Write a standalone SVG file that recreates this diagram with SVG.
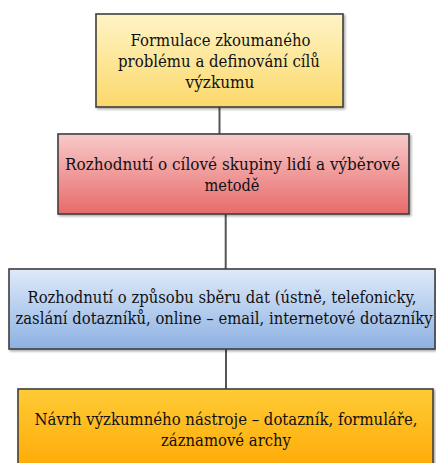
<svg xmlns="http://www.w3.org/2000/svg" width="436" height="463" viewBox="0 0 436 463">
  <defs>
    <linearGradient id="gYellow" x1="0" y1="0" x2="0" y2="1">
      <stop offset="0" stop-color="#fff4c6"/>
      <stop offset="1" stop-color="#fbd86a"/>
    </linearGradient>
    <linearGradient id="gRed" x1="0" y1="0" x2="0" y2="1">
      <stop offset="0" stop-color="#f8caca"/>
      <stop offset="1" stop-color="#e86a6a"/>
    </linearGradient>
    <linearGradient id="gBlue" x1="0" y1="0" x2="0" y2="1">
      <stop offset="0" stop-color="#dfeafa"/>
      <stop offset="1" stop-color="#8db1e2"/>
    </linearGradient>
    <linearGradient id="gOrange" gradientUnits="userSpaceOnUse" x1="0" y1="389" x2="0" y2="480">
      <stop offset="0" stop-color="#ffcb36"/>
      <stop offset="1" stop-color="#ffa600"/>
    </linearGradient>
    <filter id="shadow" x="-5%" y="-5%" width="110%" height="115%">
      <feDropShadow dx="1.5" dy="1.5" stdDeviation="0.8" flood-color="#000" flood-opacity="0.35"/>
    </filter>
  </defs>
  <style>
    .box { stroke: #3f3f3f; stroke-width: 1.6; filter: url(#shadow); }
    .lbl { font-family: "DejaVu Serif", serif; font-size: 16.5px; fill: #111; text-anchor: middle; }
    .conn { stroke: #555; stroke-width: 2; fill: none; }
  </style>

  <g id="connectors">
    <line class="conn" x1="219.5" y1="107" x2="219.5" y2="134"/>
    <line class="conn" x1="225.7" y1="214" x2="225.7" y2="269"/>
    <line class="conn" x1="226" y1="349" x2="226" y2="389"/>
  </g>

  <g id="node-formulace">
    <rect class="box" x="96" y="14" width="247" height="93" fill="url(#gYellow)"/>
    <text class="lbl" x="220.5" y="45.5" textLength="180" lengthAdjust="spacingAndGlyphs">Formulace zkoumaného</text>
    <text class="lbl" x="219" y="66.5" textLength="202" lengthAdjust="spacingAndGlyphs">problému a definování cílů</text>
    <text class="lbl" x="220" y="87.5" textLength="69" lengthAdjust="spacingAndGlyphs">výzkumu</text>
  </g>

  <g id="node-skupina">
    <rect class="box" x="58" y="134" width="351" height="80" fill="url(#gRed)"/>
    <text class="lbl" x="232.5" y="169.5" textLength="335" lengthAdjust="spacingAndGlyphs">Rozhodnutí o cílové skupiny lidí a výběrové</text>
    <text class="lbl" x="232" y="191" textLength="55" lengthAdjust="spacingAndGlyphs">metodě</text>
  </g>

  <g id="node-sber">
    <rect class="box" x="9" y="269" width="426" height="80" fill="url(#gBlue)"/>
    <text class="lbl" x="222" y="303" textLength="389" lengthAdjust="spacingAndGlyphs">Rozhodnutí o způsobu sběru dat (ústně, telefonicky,</text>
    <text class="lbl" x="224" y="324" textLength="417" lengthAdjust="spacingAndGlyphs">zaslání dotazníků, online – email, internetové dotazníky</text>
  </g>

  <g id="node-nastroj">
    <rect class="box" x="18" y="389" width="415" height="90" fill="url(#gOrange)"/>
    <text class="lbl" x="226" y="425" textLength="383" lengthAdjust="spacingAndGlyphs">Návrh výzkumného nástroje – dotazník, formuláře,</text>
    <text class="lbl" x="226" y="446" textLength="130" lengthAdjust="spacingAndGlyphs">záznamové archy</text>
  </g>
</svg>
